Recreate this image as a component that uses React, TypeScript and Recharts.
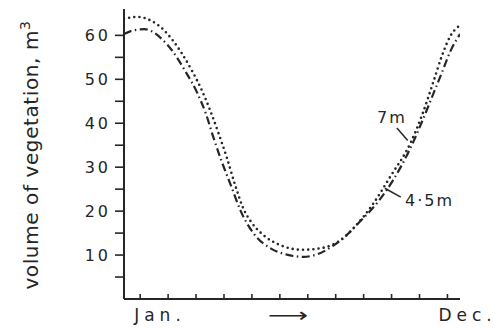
import { LineChart, Line, XAxis, YAxis, ReferenceLine, ReferenceDot } from 'recharts';

// month axis
const monthTicks = [1, 2, 3, 4, 5, 6, 7, 8, 9, 10, 11, 12];
const monthLabels: Record<number, string> = { 1: 'Jan.', 12: 'Dec.' };
const volumeTicks = [5, 10, 15, 20, 25, 30, 35, 40, 45, 50, 55, 60];

// 7 m curve (dotted)
const month7m = [0.42, 0.9, 1.4, 1.8, 2.15, 2.5, 2.85, 3.2, 3.5, 3.8, 4.1, 4.4, 4.7, 5.0, 5.4, 6.0, 6.8, 7.5, 8.2, 8.65, 9.3, 9.95, 10.7, 11.1, 11.5, 11.8, 12.1, 12.45];
const volume7m = [63.8, 64.2, 63.3, 61.5, 59.0, 55.8, 52.0, 47.6, 43, 37.8, 32.2, 25.9, 20.5, 17.3, 14.6, 12.3, 11.2, 11.6, 13.5, 16.2, 21.3, 27.8, 35.8, 42, 49.5, 55.3, 59.8, 62.3];

// 4.5 m curve (dash-dot)
const month45m = [0.42, 0.8, 1.15, 1.5, 1.8, 2.15, 2.6, 3.05, 3.35, 3.6, 3.9, 4.25, 4.6, 5.05, 5.65, 6.25, 6.85, 7.35, 7.9, 8.4, 8.8, 9.5, 10.05, 10.65, 11.1, 11.45, 11.8, 12.1, 12.45];
const volume45m = [60.3, 61.2, 61.4, 60.6, 59.0, 56.5, 52, 46.8, 42.2, 37.2, 31.6, 25.8, 20, 15, 11.6, 10.1, 9.6, 10.2, 12.1, 14.6, 17.2, 22, 27, 34, 40.5, 46, 51.5, 56.3, 60.3];

// curve labels with their pointer lines
const curveNames = ['7m', '4·5m'];
const namePos = [{ x: 10.01, y: 41.4 }, { x: 11.36, y: 22.5 }];
const pointers = [
  [{ x: 10.19, y: 38.9 }, { x: 10.58, y: 36.1 }],
  [{ x: 9.76, y: 25.2 }, { x: 10.33, y: 23.2 }],
];

const ink = '#262626';
const font = '"DejaVu Sans", sans-serif';

const series7m = month7m.map((m, i) => ({ month: m, volume: volume7m[i] }));
const series45m = month45m.map((m, i) => ({ month: m, volume: volume45m[i] }));

function MonthTick({ x, y, payload }: any) {
  const label = monthLabels[payload.value];
  return (
    <g>
      <line x1={x} x2={x} y1={y} y2={y - 5} stroke={ink} strokeWidth={1.6} />
      {label && (
        <text x={x + (payload.value === 1 ? -6 : -9)} y={y + 22} fontSize={17} letterSpacing={5} fill={ink} fontFamily={font}>
          {label}
        </text>
      )}
    </g>
  );
}

const YLabel = () => (
  <text transform="translate(38,155) rotate(-90)" textAnchor="middle" fontSize={20} letterSpacing={0.6} fill={ink} fontFamily={font}>
    volume of vegetation, m<tspan dy={-8} fontSize={14}>3</tspan>
  </text>
);

const ArrowLabel = ({ viewBox }: any) => (
  <text
    transform={`translate(${viewBox.x + viewBox.width / 2 - 4},322) scale(1.4,1)`}
    textAnchor="middle"
    fontSize={20}
    fill={ink}
    fontFamily={font}
  >
    ⟶
  </text>
);

export default function App() {
  return (
    <div style={{ position: 'absolute', left: 0, top: 0, background: '#fff' }}>
      <LineChart width={497} height={328} margin={{ top: 9, right: 37, left: 0, bottom: 0 }}>
        <XAxis
          type="number"
          dataKey="month"
          domain={[0.42, 12.45]}
          ticks={monthTicks}
          allowDataOverflow
          tickSize={0}
          tickMargin={0}
          tickLine={false}
          tick={<MonthTick />}
          height={29}
          axisLine={{ stroke: ink, strokeWidth: 2 }}
          label={{ content: ArrowLabel }}
        />
        <YAxis
          type="number"
          domain={[0, 66]}
          ticks={volumeTicks}
          width={124}
          tickSize={9}
          tickMargin={4}
          tickFormatter={(v: number) => (v % 10 === 0 ? String(v) : '')}
          tick={{ fontSize: 16, letterSpacing: 3, fill: ink, fontFamily: font }}
          tickLine={{ stroke: ink, strokeWidth: 1.6 }}
          axisLine={{ stroke: ink, strokeWidth: 2 }}
          label={{ content: YLabel }}
        />
        <YAxis
          yAxisId="right"
          orientation="right"
          domain={[0, 66]}
          width={0}
          tick={false}
          tickLine={false}
          axisLine={{ stroke: ink, strokeWidth: 2 }}
        />
        <Line
          data={series7m}
          dataKey="volume"
          type="monotone"
          stroke={ink}
          strokeWidth={2.6}
          strokeDasharray="0 5.2"
          strokeLinecap="round"
          dot={false}
          isAnimationActive={false}
        />
        <Line
          data={series45m}
          dataKey="volume"
          type="monotone"
          stroke={ink}
          strokeWidth={2.2}
          strokeDasharray="8 3.5 1.5 3.5"
          dot={false}
          isAnimationActive={false}
        />
        {pointers.map((seg, i) => (
          <ReferenceLine key={'p' + i} segment={seg} stroke={ink} strokeWidth={1.5} />
        ))}
        {curveNames.map((name, i) => (
          <ReferenceDot
            key={name}
            x={namePos[i].x}
            y={namePos[i].y}
            r={0}
            fill="none"
            stroke="none"
            label={{ value: name, position: 'center', fontSize: 16, letterSpacing: 2, fill: ink, fontFamily: font }}
          />
        ))}
      </LineChart>
    </div>
  );
}
